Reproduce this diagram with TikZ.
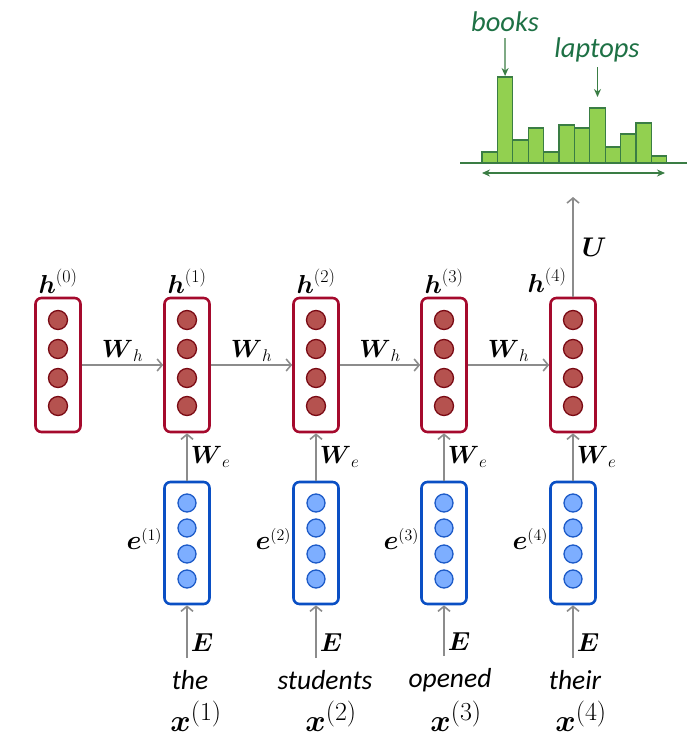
\RequirePackage{fix-cm}
\documentclass[tikz,border=0pt]{standalone}
\usepackage{amsmath}
\usepackage{fontspec}
\newfontfamily\wordfont{Carlito}
\usetikzlibrary{arrows.meta,positioning,calc}
\DeclareMathSizes{26}{26}{18}{13}
\DeclareMathSizes{25}{25}{17}{12}
\DeclareMathSizes{31}{31}{26}{18}
\DeclareMathSizes{27}{27}{16}{12}
\definecolor{crimson}{HTML}{A50A2D}
\definecolor{rose}{HTML}{B5524F}
\definecolor{maroon}{HTML}{7A0A14}
\definecolor{cobalt}{HTML}{0A4FC4}
\definecolor{sky}{HTML}{7DAEFF}
\definecolor{deepsky}{HTML}{1D5BC8}
\definecolor{ash}{HTML}{8C8C8C}
\definecolor{leaf}{HTML}{92D050}
\definecolor{forest}{HTML}{3A7D44}
\definecolor{pine}{HTML}{1E7145}
\tikzset{
  hbox/.style={rectangle, rounded corners=6pt, draw=crimson, fill=white, line width=2.6pt,
               minimum width=45pt, minimum height=134pt, inner sep=0pt},
  ebox/.style={hbox, draw=cobalt, minimum height=122pt},
  hunit/.style={circle, draw=maroon, fill=rose, line width=1.3pt, minimum size=19pt, inner sep=0pt},
  eunit/.style={circle, draw=deepsky, fill=sky, line width=1.3pt, minimum size=18pt, inner sep=0pt},
  lbl/.style={inner sep=1pt},
  hlbl/.style={lbl, font=\fontsize{26}{30}\selectfont},
  wlbl/.style={lbl, font=\fontsize{25}{29}\selectfont},
  elbl/.style={lbl, font=\fontsize{27}{31}\selectfont},
  inlbl/.style={lbl, font=\fontsize{26}{30}\selectfont},
  ulbl/.style={lbl, font=\fontsize{27}{31}\selectfont},
  xlbl/.style={lbl, font=\fontsize{31}{35}\selectfont},
  word/.style={font=\fontsize{27.5}{31}\selectfont\wordfont\itshape, inner sep=1pt},
  gword/.style={word, font=\fontsize{28.5}{32}\selectfont\wordfont\itshape, text=pine},
  flow/.style={-{Straight Barb[length=5pt, width=12pt, line width=1.6pt]}, draw=ash, line width=1.8pt},
  gflow/.style={-{Stealth[length=8pt, width=7pt]}, draw=forest, line width=1.3pt},
  bar/.style={draw=forest, fill=leaf, line width=1.2pt}
}
\begin{document}
\begin{tikzpicture}[x=1pt, y=-1pt]
  \useasboundingbox (0,0) rectangle (696,750);
  % hidden states
  \foreach \i/\x in {0/58,1/187,2/316,3/444,4/573} {
    \node[hbox] (h\i) at (\x,365) {};
    \foreach \j/\dy in {1/-45,2/-16,3/13,4/41}
      \node[hunit] (h\i u\j) at ([yshift=-\dy pt]h\i.center) {};
  }
  \foreach \i in {0,...,3}
    \node[hlbl, above=2pt of h\i] (hl\i) {$\boldsymbol{h}^{(\i)}$};
  \node[hlbl] (hl4) at (547,280) {$\boldsymbol{h}^{(4)}$};
  % embeddings
  \foreach \i/\x in {1/187,2/316,3/444,4/573} {
    \node[ebox] (e\i) at (\x,543) {};
    \foreach \j/\dy in {1/-40,2/-15,3/11,4/36}
      \node[eunit] (e\i u\j) at ([yshift=-\dy pt]e\i.center) {};
    \node[elbl, left=0pt of e\i, yshift=4pt] (el\i) {$\boldsymbol{e}^{(\i)}$};
  }
  % words
  \foreach \i/\x/\w in {1/190/the,2/325/students,3/450/opened,4/575/their} {
    \node[word] (w\i) at (\x,680) {\w};
    \node[xlbl] (x\i) at ({\x+6},716) {$\boldsymbol{x}^{(\i)}$};
  }
  % connectors
  \foreach \a/\b in {0/1,1/2,2/3,3/4}
    \draw[flow] (h\a) -- node[wlbl, above=2pt] (wh\b) {$\boldsymbol{W}_h$} (h\b);
  \foreach \i in {1,...,4} {
    \draw[flow] (e\i) -- node[wlbl, right=2pt] (we\i) {$\boldsymbol{W}_e$} (h\i);
    \draw[flow, shorten <=11pt] (w\i.north -| e\i) -- node[inlbl, right=2pt, yshift=-5pt] (ee\i) {$\boldsymbol{E}$} (e\i);
  }
  \coordinate (out) at (573,197);
  \draw[flow] (h4) -- node[ulbl, right=7pt] (uu) {$\boldsymbol{U}$} (out);
  % output distribution
  \foreach \v [count=\k] in {11,86,23,35,11,38,35,55,16,29,40,7} {
    \draw[bar] ({482+(\k-1)*15.4},163) rectangle ++(15.4,-\v);
    \coordinate (b\k) at ({482+(\k-0.5)*15.4},{163-\v});
  }
  \draw[draw=forest, line width=2.6pt] (460,163) -- (687,163);
  \coordinate (ax1) at (482,173);
  \coordinate (ax2) at (665,173);
  \draw[{Stealth[length=8pt, width=7pt]}-{Stealth[length=8pt, width=7pt]}, draw=forest, line width=1.3pt] (ax1) -- (ax2);
  \node[gword] (books) at (505,22) {books};
  \node[gword] (laptops) at (597,50) {laptops};
  \draw[gflow, shorten <=5pt, shorten >=1pt] (books) -- (b2);
  \draw[gflow, shorten <=4pt, shorten >=11pt] (laptops.south -| b8) -- (b8);
\end{tikzpicture}
\end{document}
